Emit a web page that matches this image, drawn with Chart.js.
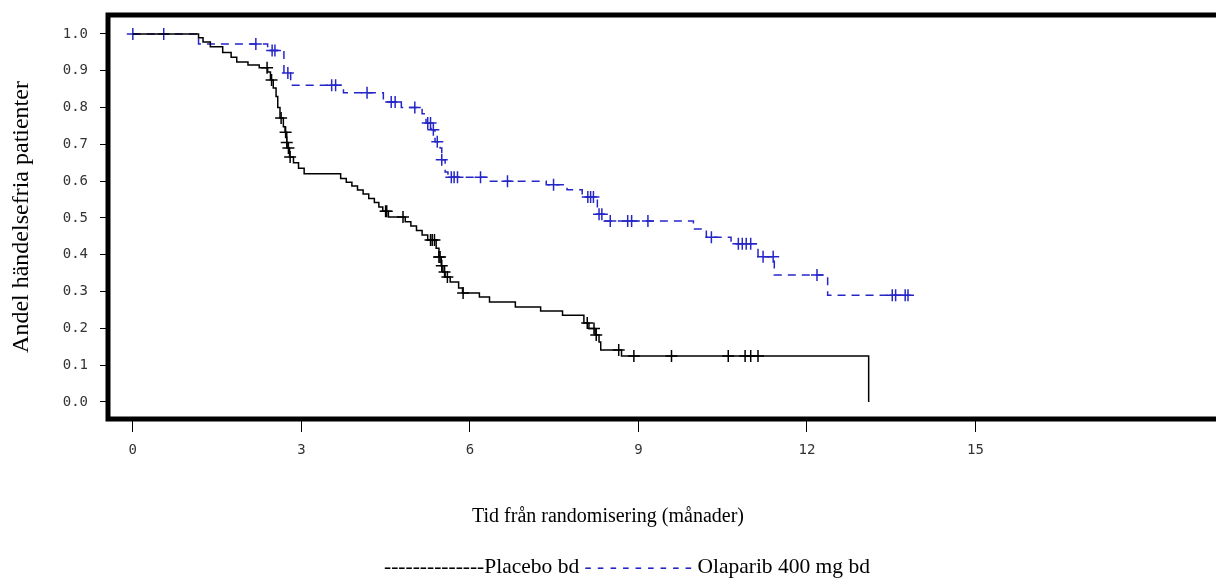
<!DOCTYPE html>
<html>
<head>
<meta charset="utf-8">
<script src="https://cdn.jsdelivr.net/npm/chart.js@4/dist/chart.umd.min.js"></script>
<style>
	body { margin: 0; background: #fff; }
	#wrap { position: relative; width: 1216px; height: 583px; }
	#legend {
		position: absolute; top: 554px; left: 38px; width: 1178px;
		text-align: center; font: 21.5px 'Liberation Serif', 'Times New Roman', serif; color: #000;
		white-space: pre;
	}
	.blue { color: #2626c8; }
</style>
</head>
<body>
<div id="wrap">
	<canvas id="kmchart" width="1216" height="583"></canvas>
	<div id="legend">--------------Placebo bd <span class="blue">- - - - - - - - -</span> Olaparib 400 mg bd</div>
</div>
<script>
// tick labels
var xTicks = [0, 3, 6, 9, 12, 15];
var yTicks = [0, 0.1, 0.2, 0.3, 0.4, 0.5, 0.6, 0.7, 0.8, 0.9, 1.0];

// placebo: step times (months) and survival after each step
var placeboTimes = [0, 1.17, 1.25, 1.38, 1.6, 1.75, 1.85, 2.05, 2.25, 2.4, 2.45, 2.5, 2.55, 2.58, 2.62, 2.68, 2.71, 2.74, 2.76, 2.79, 2.86, 2.95, 3.05,
	3.7, 3.8, 3.9, 4.0, 4.1, 4.2, 4.3, 4.38, 4.45, 4.55, 4.85, 4.95, 5.05, 5.15, 5.25, 5.4, 5.45, 5.49, 5.52, 5.56, 5.65, 5.8, 5.87,
	6.17, 6.35, 6.81, 7.26, 7.65, 8.03, 8.12, 8.23, 8.3, 8.33, 8.7, 13.1];
var placeboSurv = [1.0, 0.99, 0.978, 0.965, 0.95, 0.937, 0.924, 0.916, 0.908, 0.897, 0.875, 0.853, 0.83, 0.80, 0.772, 0.748, 0.733, 0.705, 0.69, 0.666, 0.65, 0.635, 0.62,
	0.607, 0.597, 0.587, 0.576, 0.565, 0.553, 0.542, 0.53, 0.518, 0.503, 0.49, 0.478, 0.466, 0.454, 0.44, 0.418, 0.394, 0.37, 0.353, 0.34, 0.326, 0.31, 0.296,
	0.285, 0.272, 0.258, 0.247, 0.236, 0.215, 0.2, 0.182, 0.163, 0.141, 0.125, 0.0];
var placeboCensor = [2.39, 2.47, 2.64, 2.72, 2.74, 2.77, 2.8, 4.5, 4.52, 4.81, 5.3, 5.33, 5.37, 5.45, 5.47, 5.5, 5.55, 5.6, 5.88,
	8.09, 8.21, 8.25, 8.65, 8.92, 9.59, 10.6, 10.9, 11.0, 11.13];

// olaparib 400 mg bd
var olaparibTimes = [0, 1.17, 2.4, 2.69, 2.81, 3.75, 4.46, 4.78, 5.15, 5.22, 5.31, 5.38, 5.47, 5.5, 5.56, 5.61, 6.32, 7.36, 7.73, 8.0, 8.27, 8.39,
	9.98, 10.21, 10.65, 11.13, 11.42, 12.37, 13.8];
var olaparibSurv = [1.0, 0.973, 0.955, 0.894, 0.861, 0.84, 0.815, 0.80, 0.783, 0.758, 0.74, 0.707, 0.69, 0.658, 0.625, 0.611, 0.60, 0.59, 0.577, 0.557, 0.51, 0.492,
	0.47, 0.448, 0.43, 0.395, 0.345, 0.29, 0.29];
var olaparibCensor = [0, 0.55, 2.19, 2.48, 2.53, 2.76, 3.54, 3.61, 4.17, 4.6, 4.67, 5.02, 5.25, 5.3, 5.35, 5.42, 5.5, 5.67, 5.72, 5.78, 6.19, 6.67, 7.49,
	8.1, 8.15, 8.2, 8.3, 8.35, 8.5, 8.81, 8.88, 9.17, 10.3, 10.78, 10.85, 10.92, 11.0, 11.22, 11.4, 12.18, 13.52, 13.58, 13.75, 13.8];

var blue = '#2626c8';

function toPoints(times, surv) {
	return times.map(function (t, i) { return { x: t, y: surv[i] }; });
}

// survival value at time t (last step at or before t)
function survAt(times, surv, t) {
	var s = surv[0];
	for (var i = 0; i < times.length; i++) {
		if (times[i] <= t) s = surv[i];
	}
	return s;
}

function censorPoints(censor, times, surv) {
	return censor.map(function (t) { return { x: t, y: survAt(times, surv, t) }; });
}

// thick black frame around the plot area
var framePlugin = {
	id: 'frame',
	afterDatasetsDraw: function (chart) {
		var a = chart.chartArea;
		var ctx = chart.ctx;
		ctx.save();
		ctx.strokeStyle = '#000';
		ctx.lineWidth = 5;
		ctx.strokeRect(a.left, a.top, a.right + 10 - a.left, a.bottom - a.top);
		ctx.restore();
	}
};

var tickFont = { family: "'DejaVu Sans Mono', monospace", size: 14 };
var serif = "'Liberation Serif', 'Times New Roman', serif";

var ctx = document.getElementById('kmchart').getContext('2d');
var kmChart = new Chart(ctx, {
	type: 'line',
	data: {
		datasets: [{
			label: 'Placebo bd',
			data: toPoints(placeboTimes, placeboSurv),
			stepped: 'before',
			borderColor: '#000',
			borderWidth: 1.5,
			pointRadius: 0,
			fill: false
		}, {
			label: 'Olaparib 400 mg bd',
			data: toPoints(olaparibTimes, olaparibSurv),
			stepped: 'before',
			borderColor: blue,
			borderWidth: 1.5,
			borderDash: [8, 6],
			pointRadius: 0,
			fill: false
		}, {
			label: 'Placebo censored',
			type: 'scatter',
			data: censorPoints(placeboCensor, placeboTimes, placeboSurv),
			pointStyle: 'cross',
			pointRadius: 6,
			pointBorderWidth: 1.5,
			borderColor: '#000',
			backgroundColor: '#000'
		}, {
			label: 'Olaparib censored',
			type: 'scatter',
			data: censorPoints(olaparibCensor, olaparibTimes, olaparibSurv),
			pointStyle: 'cross',
			pointRadius: 6,
			pointBorderWidth: 1.5,
			borderColor: blue,
			backgroundColor: blue
		}]
	},
	options: {
		responsive: false,
		animation: false,
		events: [],
		layout: {
			padding: { top: 15, right: 0, bottom: 50, left: 0 }
		},
		plugins: {
			legend: { display: false },
			tooltip: { enabled: false },
			title: {
				display: true,
				position: 'bottom',
				text: 'Tid från randomisering (månader)',
				color: '#000',
				font: { family: serif, size: 20, weight: 'normal' },
				padding: { top: 0, bottom: 4 }
			}
		},
		scales: {
			x: {
				type: 'linear',
				min: -0.442,
				max: 19.15,
				afterBuildTicks: function (scale) {
					scale.ticks = xTicks.map(function (v) { return { value: v }; });
				},
				afterFit: function (scale) {
					scale.height = 86;
					scale.paddingLeft = 0;
					scale.paddingRight = 0;
				},
				ticks: {
					color: '#333',
					font: tickFont,
					padding: 10,
					maxRotation: 0,
					callback: function (v) { return v; }
				},
				grid: {
					drawOnChartArea: false,
					drawTicks: true,
					tickLength: 13,
					color: '#000'
				},
				border: { display: false }
			},
			y: {
				type: 'linear',
				min: -0.0462,
				max: 1.0516,
				afterBuildTicks: function (scale) {
					scale.ticks = yTicks.map(function (v) { return { value: v }; });
				},
				afterFit: function (scale) {
					scale.width = 108;
					scale.paddingTop = 0;
					scale.paddingBottom = 0;
				},
				ticks: {
					color: '#333',
					font: tickFont,
					padding: 12,
					callback: function (v) { return v.toFixed(1); }
				},
				grid: {
					drawOnChartArea: false,
					drawTicks: true,
					tickLength: 8,
					color: '#000'
				},
				border: { display: false },
				title: {
					display: true,
					text: 'Andel händelsefria patienter',
					color: '#000',
					font: { family: serif, size: 24 },
					padding: { top: 7, bottom: 0 }
				}
			}
		}
	},
	plugins: [framePlugin]
});
</script>
</body>
</html>
